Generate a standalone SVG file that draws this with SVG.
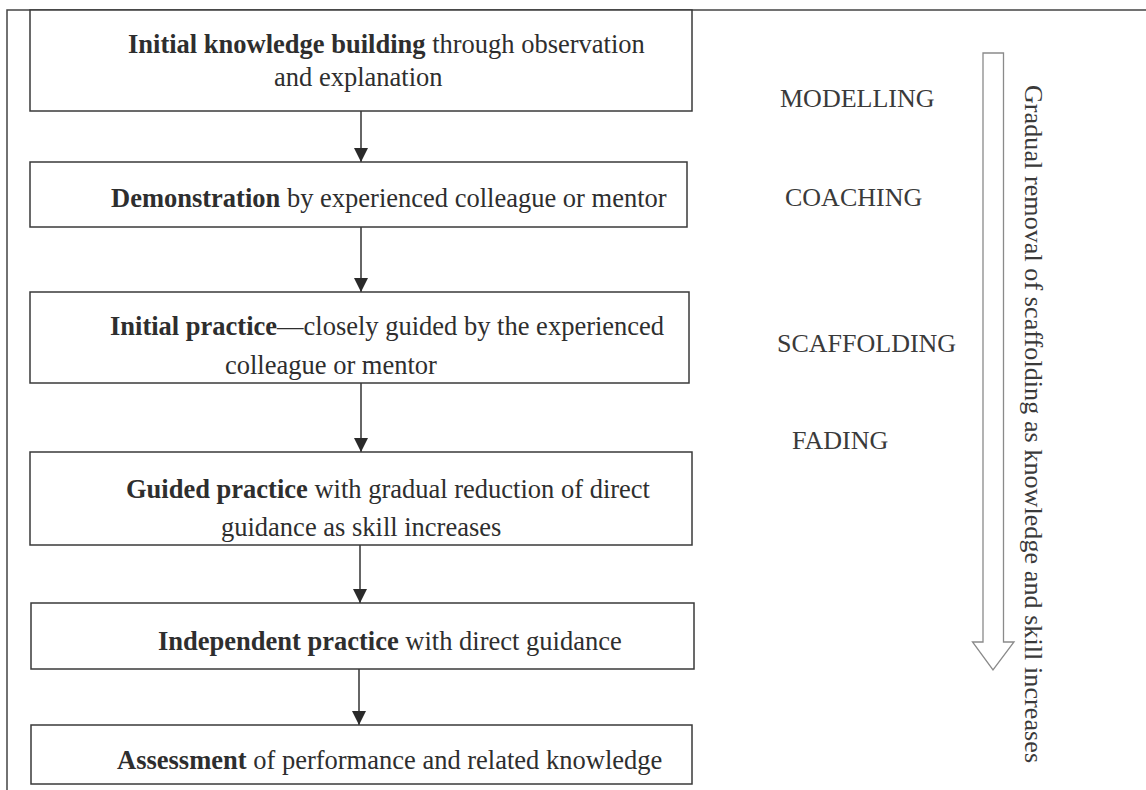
<svg xmlns="http://www.w3.org/2000/svg" width="1146" height="790" viewBox="0 0 1146 790">
  <style>
    .frame { fill: none; stroke: #444; stroke-width: 1.5; }
    .box { fill: #fff; stroke: #3a3a3a; stroke-width: 1.5; }
    .conn { fill: none; stroke: #333; stroke-width: 1.5; }
    .t { font-family: "Liberation Serif", "Times New Roman", serif; font-size: 26.5px; fill: #2e2e2e; }
    .b { font-weight: bold; }
    .stage { font-family: "Liberation Serif", "Times New Roman", serif; font-size: 26px; fill: #3a3a3a; }
    .block { fill: #fff; stroke: #8a8a8a; stroke-width: 1.3; }
  </style>
  <defs>
    <marker id="tri" markerUnits="userSpaceOnUse" markerWidth="14" markerHeight="15" refX="14" refY="7" orient="auto" viewBox="0 0 14 14">
      <path d="M0,0 L14,7 L0,14 Z" fill="#2a2a2a"/>
    </marker>
  </defs>

  <rect width="1146" height="790" fill="#fff"/>

  <!-- page frame: top rule and left rule -->
  <path class="frame" d="M7,790 L7,10 L1146,10"/>

  <!-- connectors -->
  <g id="connectors">
    <line class="conn" x1="361" y1="111" x2="361" y2="162" marker-end="url(#tri)"/>
    <line class="conn" x1="361" y1="227" x2="361" y2="292" marker-end="url(#tri)"/>
    <line class="conn" x1="361" y1="383" x2="361" y2="452" marker-end="url(#tri)"/>
    <line class="conn" x1="360" y1="545" x2="360" y2="603" marker-end="url(#tri)"/>
    <line class="conn" x1="359" y1="669" x2="359" y2="725" marker-end="url(#tri)"/>
  </g>

  <g id="node-knowledge">
    <rect class="box" x="30" y="10" width="662" height="101"/>
    <text class="t" x="128" y="53"><tspan class="b">Initial knowledge building</tspan> through observation</text>
    <text class="t" x="274" y="86">and explanation</text>
  </g>

  <g id="node-demonstration">
    <rect class="box" x="30" y="162" width="657" height="65"/>
    <text class="t" x="111" y="207"><tspan class="b">Demonstration</tspan> by experienced colleague or mentor</text>
  </g>

  <g id="node-initial-practice">
    <rect class="box" x="30" y="292" width="659" height="91"/>
    <text class="t" x="110" y="335"><tspan class="b">Initial practice</tspan>—closely guided by the experienced</text>
    <text class="t" x="225" y="374">colleague or mentor</text>
  </g>

  <g id="node-guided-practice">
    <rect class="box" x="30" y="452" width="662" height="93"/>
    <text class="t" x="126" y="498"><tspan class="b">Guided practice</tspan> with gradual reduction of direct</text>
    <text class="t" x="221" y="536">guidance as skill increases</text>
  </g>

  <g id="node-independent-practice">
    <rect class="box" x="31" y="603" width="663" height="66"/>
    <text class="t" x="158" y="650"><tspan class="b">Independent practice</tspan> with direct guidance</text>
  </g>

  <g id="node-assessment">
    <rect class="box" x="31" y="725" width="661" height="59"/>
    <text class="t" x="117" y="769"><tspan class="b">Assessment</tspan> of performance and related knowledge</text>
  </g>

  <!-- stage labels -->
  <g id="stages">
    <text class="stage" x="780" y="107">MODELLING</text>
    <text class="stage" x="785" y="206">COACHING</text>
    <text class="stage" x="777" y="352">SCAFFOLDING</text>
    <text class="stage" x="792" y="449">FADING</text>
  </g>

  <!-- hollow block arrow with rotated caption -->
  <g id="removal-arrow">
    <path class="block" d="M983,53 L1003.5,53 L1003.5,642 L1014,642 L993,670 L972.5,642 L983,642 Z"/>
    <text class="stage" transform="translate(1025,85) rotate(90)" textLength="678" lengthAdjust="spacing">Gradual removal of scaffolding as knowledge and skill increases</text>
  </g>
</svg>
